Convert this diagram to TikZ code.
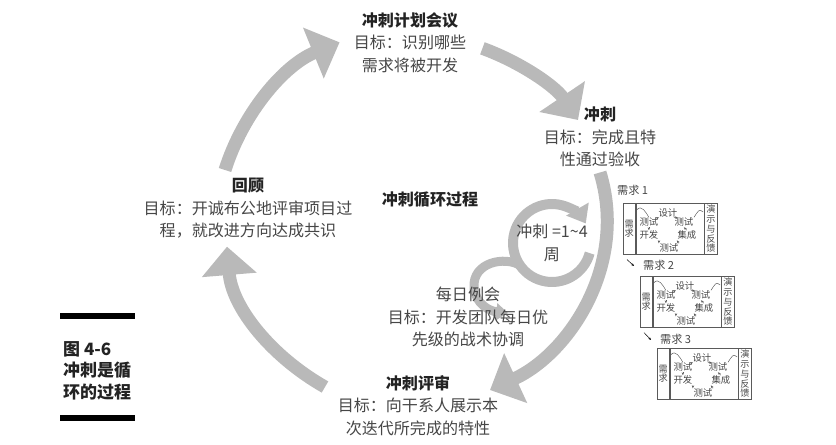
\documentclass[tikz,border=0pt]{standalone}
\usepackage{fontspec}
\setmainfont{Noto Sans CJK SC}
\usetikzlibrary{arrows.meta, positioning, backgrounds}
\definecolor{flowgray}{RGB}{185,185,185}
\definecolor{textgray}{RGB}{70,70,70}
\definecolor{titleblack}{RGB}{35,35,35}
\definecolor{boxgray}{RGB}{90,90,90}

\begin{document}
\begin{tikzpicture}[x=0.03cm, y=-0.03cm,
    stage/.style={align=center, inner sep=0pt, anchor=north, text=textgray, font=\fontsize{13.7pt}{19.2pt}\selectfont},
    bigarrow/.style={draw=flowgray, line width=0.39cm, -{Triangle[width=1.6cm, length=0.85cm]}},
    looparrow/.style={draw=flowgray, line width=0.3cm, -{Triangle[width=0.75cm, length=0.5cm]}},
    dailyarrow/.style={draw=flowgray, line width=0.27cm, -{Triangle[width=0.5cm, length=0.35cm]}},
    column/.style={draw=boxgray, line width=0.5pt, minimum height=1.53cm, inner sep=0pt, align=center, font=\fontsize{7.8pt}{8.3pt}\selectfont, text=textgray},
    task/.style={inner sep=0.4pt, font=\fontsize{8pt}{8.5pt}\selectfont, text=textgray},
    reqlabel/.style={inner sep=0pt, anchor=west, font=\fontsize{9.5pt}{10pt}\selectfont, text=textgray},
    miniarrow/.style={-{Stealth[length=2.5pt, width=2pt]}, draw=boxgray, line width=0.4pt},
    miniline/.style={draw=boxgray, line width=0.4pt},
    caption/.style={align=left, inner sep=0pt, anchor=north west, text=titleblack, font=\bfseries\fontsize{14.5pt}{18.4pt}\selectfont}]

    \useasboundingbox (0,0) rectangle (836,444);

    % stages of the cycle
    \node[stage] (plan) at (410,12) {{\bfseries\color{titleblack}冲刺计划会议}\\目标：识别哪些\\需求将被开发};
    \node[stage] (sprint) at (600,107) {{\bfseries\color{titleblack}冲刺}\\目标：完成且特\\性通过验收};
    \node[stage] (retro) at (248,178) {{\bfseries\color{titleblack}回顾}\\目标：开诚布公地评审项目过\\程，就改进方向达成共识};
    \node[stage] (review) at (418,375) {{\bfseries\color{titleblack}冲刺评审}\\目标：向干系人展示本\\次迭代所完成的特性};
    \node[stage] (daily) at (468,287) {每日例会\\目标：开发团队每日优\\先级的战术协调};
    \node[stage, anchor=center, text=titleblack, font=\bfseries\fontsize{13.7pt}{19.2pt}\selectfont] (cycle) at (430,200) {冲刺循环过程};
    \node[stage, anchor=center] (length) at (552,243) {冲刺 =1\textasciitilde 4\\周};

    % caption
    \fill[black] (60,313) rectangle (135,319);
    \node[caption] (figno) at (63,341) {图 4-6\\冲刺是循\\环的过程};
    \fill[black] (60,415) rectangle (135,421);

    % requirement boxes
    \foreach \n/\bx/\by/\lx/\ly in {1/623/203/617/190, 2/640/276/643/265, 3/657/348/660/339} {
        \node[column, minimum width=0.36cm, anchor=north west] (need\n) at (\bx,\by) {需\\求};
        \node[column, minimum width=2.04cm, right=0pt of need\n] (loop\n) {};
        \node[column, minimum width=0.39cm, right=0pt of loop\n] (demo\n) {演\\示\\与\\反\\馈};
        \node[reqlabel] (lab\n) at (\lx,\ly) {需求 \n};
        \node[task] (design\n) at ([shift={(-2,-16)}]loop\n.center) {设计};
        \node[task] (testl\n) at ([shift={(-21,-6.5)}]loop\n.center) {测试};
        \node[task] (testr\n) at ([shift={(14,-6.5)}]loop\n.center) {测试};
        \node[task] (build\n) at ([shift={(-21,6.5)}]loop\n.center) {开发};
        \node[task] (integ\n) at ([shift={(17,6.5)}]loop\n.center) {集成};
        \node[task] (testb\n) at ([shift={(-1,19.5)}]loop\n.center) {测试};
        \draw[miniarrow] (design\n.south west) -- (testl\n.north east);
        \draw[miniarrow] (testl\n.south) -- (build\n.north);
        \draw[miniarrow] (build\n.south east) -- (testb\n.north west);
        \draw[miniarrow] (testb\n.north east) -- (integ\n.south west);
        \draw[miniarrow] (integ\n.north) -- (testr\n.south);
        \draw[miniarrow] (testr\n.north west) -- (design\n.south east);
        \draw[miniline] ([shift={(1,7)}]need\n.north east) .. controls +(5,-6) and +(-3,-5) .. (testl\n.north);
        \draw[miniline] (testr\n.north east) .. controls +(4,-6) and +(-4,-4) .. ([shift={(-1,9)}]demo\n.north west);
    }
    \draw[miniarrow, draw=black] ([shift={(4,5)}]need1.south west) -- ([shift={(-9,1)}]lab2.west);
    \draw[miniarrow, draw=black] ([shift={(4,5)}]need2.south west) -- ([shift={(-9,1)}]lab3.west);

    % the big cycle and the inner loops
    \begin{pgfonlayer}{background}
        \draw[bigarrow] ([shift={(-23,-8)}]retro.north) .. controls (243,113) and (284,65) .. ([shift={(-14,0)}]plan.west);
        \draw[bigarrow] ([shift={(16,6)}]plan.east) .. controls (520,62) and (555,86) .. ([shift={(-22,13)}]sprint.north);
        \draw[bigarrow] ([shift={(0,5)}]sprint.south) .. controls (628,264) and (570,353) .. ([shift={(72,15)}]review.north);
        \draw[bigarrow] ([shift={(-93,12)}]review.north) .. controls (272,357) and (232,308) .. ([shift={(-21,8)}]retro.south);
        \draw[looparrow] ([shift={(15:39)}]length.center) arc[start angle=15, end angle=330, radius=39];
        \draw[dailyarrow] ([shift={(145:39)}]length.center) .. controls (505,256) and (472,262) .. (474,288) .. controls (476,304) and (489,311) .. ([shift={(40,26)}]daily.north);
    \end{pgfonlayer}
\end{tikzpicture}
\end{document}
